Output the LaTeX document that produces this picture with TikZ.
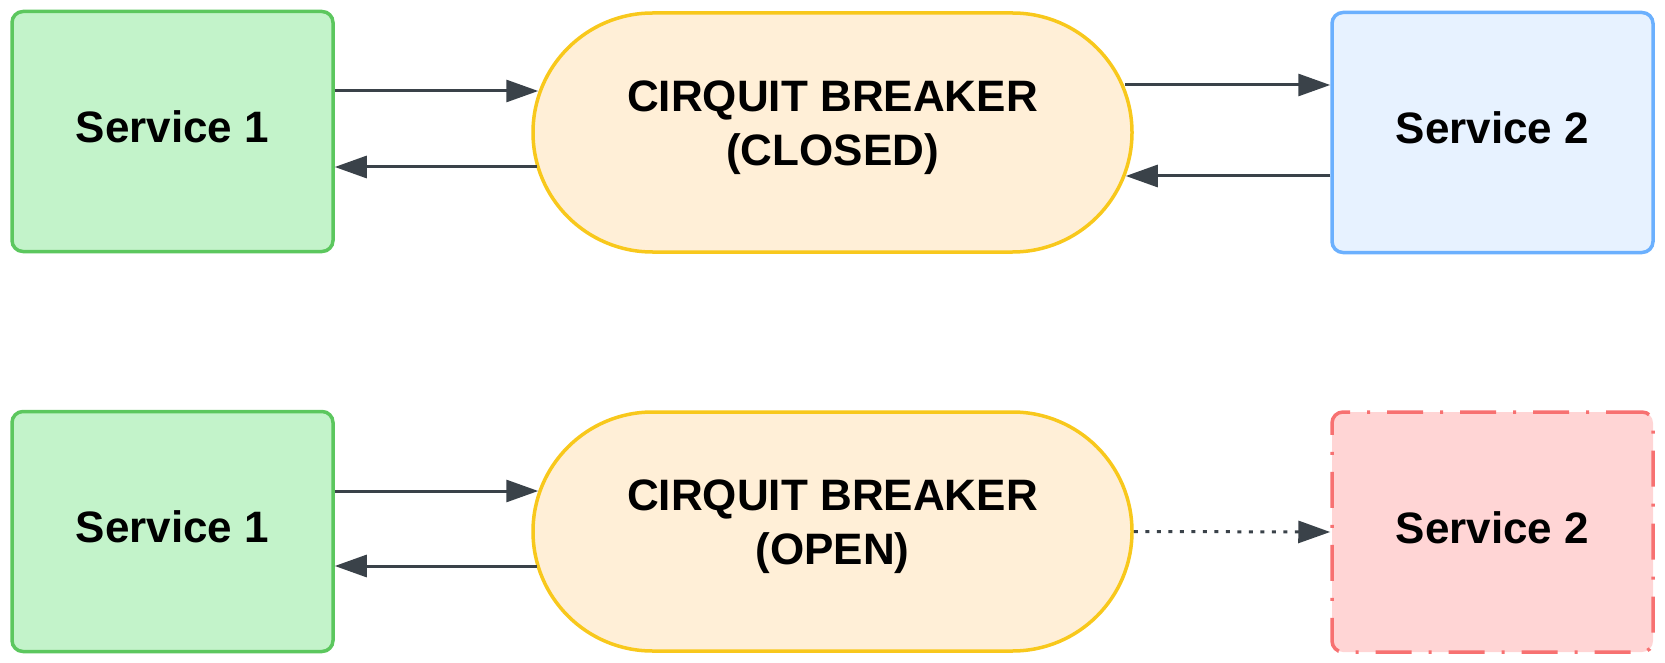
\documentclass[tikz,border=0pt]{standalone}
\usepackage{fontspec}
\setmainfont{Liberation Sans}
\usetikzlibrary{shapes.misc,arrows.meta}
\definecolor{gfill}{HTML}{C3F3CA}
\definecolor{gline}{HTML}{5CC75E}
\definecolor{yfill}{HTML}{FFEFD7}
\definecolor{yline}{HTML}{F8C81C}
\definecolor{bfill}{HTML}{E7F2FF}
\definecolor{bline}{HTML}{6BB0FE}
\definecolor{rfill}{HTML}{FFD5D5}
\definecolor{rline}{HTML}{F77171}
\definecolor{arrcol}{HTML}{3A4249}
\tikzset{
  x=1pt, y=-1pt,
  lbl/.style={font=\fontsize{44}{54}\selectfont\bfseries, text=black, align=center},
  svc/.style={lbl, rectangle, rounded corners=11pt, line width=3.5pt, minimum width=321pt, minimum height=240pt, inner sep=0pt, text depth=9pt},
  brk/.style={lbl, rounded rectangle, line width=3.5pt, draw=yline, fill=yfill, minimum width=599pt, minimum height=239pt, inner sep=0pt, text depth=18pt},
  arr/.style={draw=arrcol, line width=3pt, -{Triangle[length=32pt,width=22pt]}},
  dotarr/.style={arr, dash pattern=on 4pt off 7.5pt}
}
\begin{document}
\begin{tikzpicture}
\useasboundingbox (0,0) rectangle (1665,663);
% top row
\node[svc, draw=gline, fill=gfill] (s1a) at (172.5,131.5) {Service 1};
\node[brk] (cba) at (832.5,132.5) {CIRQUIT BREAKER\\(CLOSED)};
\node[svc, draw=bline, fill=bfill] (s2a) at (1492.5,132.5) {Service 2};
\draw[arr] ([yshift=40.5pt]s1a.east) -- ([yshift=41.5pt,xshift=7pt]cba.west);
\draw[arr] ([yshift=-34.5pt,xshift=6pt]cba.west) -- ([yshift=-35.5pt]s1a.east);
\draw[arr] ([yshift=47.5pt,xshift=-9pt]cba.east) -- ([yshift=47.5pt]s2a.west);
\draw[arr] ([yshift=-43.5pt]s2a.west) -- ([yshift=-43.5pt,xshift=-8pt]cba.east);
% bottom row
\node[svc, draw=gline, fill=gfill] (s1b) at (172.5,531.5) {Service 1};
\node[brk] (cbb) at (832.5,531.5) {CIRQUIT BREAKER\\(OPEN)};
\node[svc, draw=rline, fill=rfill, dash pattern=on 36pt off 17pt on 3pt off 17pt] (s2b) at (1492.5,532) {Service 2};
\draw[arr] ([yshift=40.5pt]s1b.east) -- ([yshift=40.5pt,xshift=7pt]cbb.west);
\draw[arr] ([yshift=-34.5pt,xshift=6pt]cbb.west) -- ([yshift=-34.5pt]s1b.east);
\draw[dotarr] (cbb.east) -- (s2b.west);
\end{tikzpicture}
\end{document}
